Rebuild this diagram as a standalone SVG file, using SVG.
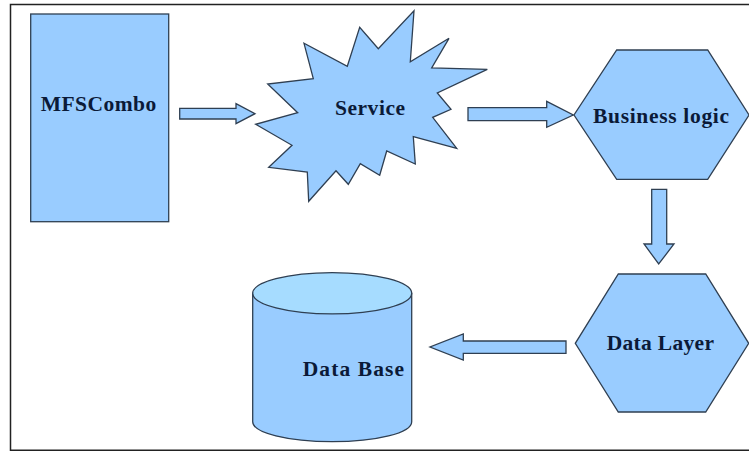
<svg xmlns="http://www.w3.org/2000/svg" width="749" height="451" viewBox="0 0 749 451">
<style>
.s{fill:#99ccff;stroke:#2f3f52;stroke-width:1.3;stroke-linejoin:miter}
.t{font-family:"Liberation Serif","Times New Roman",serif;font-weight:bold;font-size:21.5px;fill:#0b1a38}
</style>
<rect width="749" height="451" fill="#ffffff"/>
<path d="M10.5 451V4.5H749" fill="none" stroke="#222" stroke-width="1.5"/>
<path d="M10.5 450.2H749" fill="none" stroke="#222" stroke-width="1.5"/>
<g id="connectors">
<polygon class="s" points="179.7,108.3 236,108.3 236,103.7 255,113.7 236,123.7 236,119 179.7,119"/>
<polygon class="s" points="468,107.7 546.7,107.7 546.7,101.3 573.3,115 546.7,127.3 546.7,120.7 468,120.7"/>
<polygon class="s" points="651.7,189.3 666.7,189.3 666.7,244 674,244 658.7,264 644,244 651.7,244"/>
<polygon class="s" points="566,341 463.3,341 463.3,334 430,347 463.3,360 463.3,353.3 566,353.3"/>
</g>
<g id="mfscombo">
<rect class="s" x="30.7" y="14" width="138" height="207.7"/>
<text class="t" x="40.7" y="110.7" textLength="115.6">MFSCombo</text>
</g>
<g id="service">
<polygon class="s" points="414,10.7 410.3,61.7 449,38.3 431.7,68 487.3,69.3 437.3,93 451,109.3 432.7,117.3 456.7,148.3 413.3,136.7 415.3,164 386.7,151 379.7,175.3 360.3,163.7 348.3,184.3 336,170.7 308.7,201.3 307.3,172 268.7,167.3 292,145.3 255.7,124.3 297.7,112.7 267.7,84 313.3,78.7 304,43.3 347.3,66.3 359.7,27.3 378.3,48.7"/>
<text class="t" x="335" y="115" textLength="70">Service</text>
</g>
<g id="business-logic">
<polygon class="s" points="616.7,50 707.7,50 749,115 707.7,179.3 616.7,179.3 574,115"/>
<text class="t" x="593" y="122.7" textLength="136">Business logic</text>
</g>
<g id="data-layer">
<polygon class="s" points="618.3,274 705.7,274 748.7,343.3 705.7,412 618.3,412 575.3,343.3"/>
<text class="t" x="606.7" y="350" textLength="107.3">Data Layer</text>
</g>
<g id="data-base">
<path class="s" d="M252.7 293.3V421.7C252.7 433 288 441.7 332.2 441.7S411.7 433 411.7 421.7V293.3Z"/>
<ellipse class="s" cx="332.2" cy="293.3" rx="79.5" ry="20.6" style="fill:#a6dcff"/>
<text class="t" x="302.7" y="375.7" textLength="101.3">Data Base</text>
</g>
</svg>
